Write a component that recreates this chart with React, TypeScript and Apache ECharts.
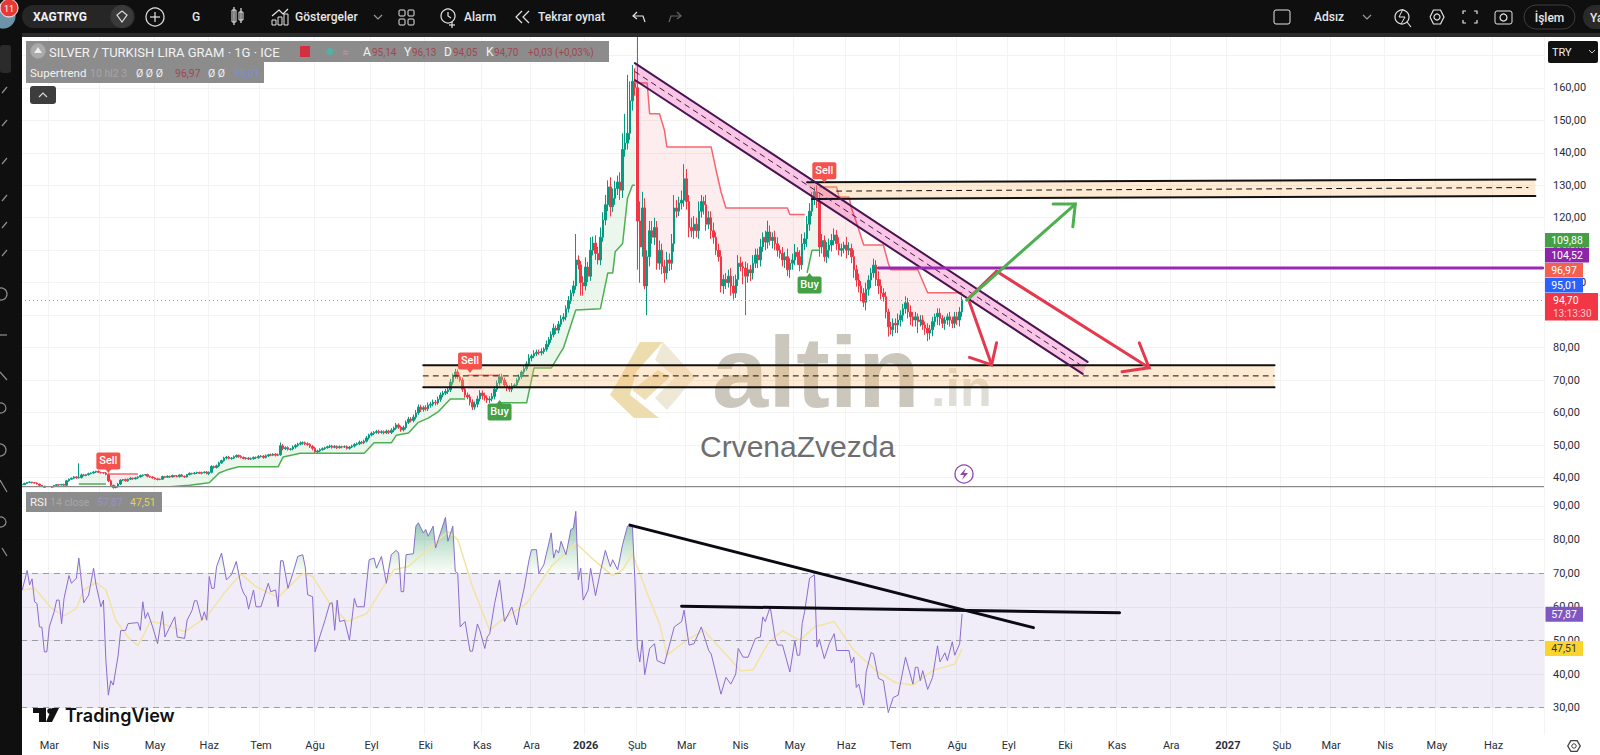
import React, { useEffect, useRef } from "react";
import * as echarts from "echarts";

const BAR_COUNT = 619;
const monthLabels: [number, string][] = [[11,"Mar"],[32,"Nis"],[54,"May"],[76,"Haz"],[97,"Tem"],[119,"Ağu"],[142,"Eyl"],[164,"Eki"],[187,"Kas"],[207,"Ara"],[229,"2026"],[250,"Şub"],[270,"Mar"],[292,"Nis"],[314,"May"],[335,"Haz"],[357,"Tem"],[380,"Ağu"],[401,"Eyl"],[424,"Eki"],[445,"Kas"],[467,"Ara"],[490,"2027"],[512,"Şub"],[532,"Mar"],[554,"Nis"],[575,"May"],[598,"Haz"]];
const priceTicks = [40,50,60,70,80,90,100,110,120,130,140,150,160,170];
const rsiTicks = [30,40,50,60,70,80,90];

const closes = [
37.8,38.2,38.5,38.6,38.4,38.3,38.0,37.6,37.3,37.0,
36.9,37.0,37.2,37.6,37.8,37.7,37.9,37.6,39.0,39.5,
39.8,40.2,39.9,40.0,40.8,40.6,40.9,41.2,41.4,41.7,
41.9,41.6,41.5,41.4,41.0,39.0,37.6,36.9,37.2,38.0,
39.2,39.4,39.0,39.5,39.8,39.6,39.9,40.2,40.6,40.8,
40.9,40.4,40.2,39.9,39.6,39.4,39.5,40.3,40.1,40.4,
40.2,40.6,40.5,40.3,40.8,40.4,40.2,40.9,41.3,41.2,
41.4,41.6,41.3,41.5,41.7,41.2,41.6,43.4,43.1,43.6,
44.5,45.2,46.0,46.3,45.9,46.0,46.4,46.8,46.5,46.2,
45.9,46.0,45.7,45.8,46.2,46.1,46.5,46.6,46.2,46.7,
47.0,46.9,47.2,46.9,47.0,49.8,48.9,49.2,48.7,48.8,
49.4,49.9,50.3,50.6,50.7,50.4,50.2,49.6,49.0,47.9,
48.2,48.6,48.9,49.2,49.5,49.7,49.3,49.6,49.2,49.5,
49.4,49.5,49.0,49.4,49.7,50.2,50.4,50.9,50.7,51.2,
52.2,53.1,53.6,53.9,54.2,53.9,54.1,53.8,54.3,53.9,
54.6,55.2,56.2,55.5,54.7,55.4,57.0,58.0,57.6,58.6,
59.9,61.7,61.0,61.5,61.2,62.3,62.6,63.2,63.0,64.1,
65.4,66.0,66.5,67.0,69.4,71.2,72.5,71.0,70.0,67.2,
65.4,64.8,63.2,61.7,62.6,64.2,66.0,65.2,64.5,63.9,
64.2,65.0,67.2,69.1,71.0,70.0,68.5,67.6,67.2,68.2,
68.5,70.0,71.0,72.5,73.5,75.0,76.8,77.4,78.2,78.6,
78.4,78.8,79.5,81.0,82.5,84.0,86.0,85.4,87.2,88.8,
89.4,92.0,94.5,96.8,99.0,107.0,105.5,100.0,99.0,104.8,
102.0,110.0,112.2,109.0,107.0,114.0,119.3,124.0,129.5,123.4,
126.0,129.0,131.0,128.5,141.0,143.0,146.0,156.0,162.0,160.0,
119.0,111.0,123.0,99.0,108.0,116.0,114.0,117.0,106.0,110.0,
105.0,103.0,107.0,106.0,112.0,123.0,122.0,124.5,125.4,132.0,
125.0,117.0,116.0,118.0,116.0,122.0,125.0,124.0,118.0,120.0,
116.0,114.0,110.0,108.0,99.0,101.0,100.0,102.0,99.0,96.8,
101.0,106.0,105.0,104.5,102.0,104.0,103.0,106.0,108.5,107.0,
111.0,114.0,112.5,115.6,113.0,114.0,112.0,110.0,109.0,107.0,
108.0,104.0,106.0,107.0,109.4,108.0,105.5,112.0,113.5,118.0,
122.0,126.4,128.0,125.0,111.0,113.0,108.0,110.0,111.6,113.0,
114.7,112.0,110.0,110.5,111.6,110.0,110.5,108.0,104.0,100.8,
99.0,96.8,94.0,98.0,100.8,103.0,105.4,101.0,99.0,96.8,
95.7,91.0,86.4,85.5,87.5,87.0,88.5,90.0,92.0,93.8,
91.0,89.5,88.5,89.5,88.0,88.5,87.0,86.0,84.5,85.5,
88.0,89.5,90.6,89.0,87.5,88.5,89.5,88.5,87.5,89.5,
88.5,91.0,94.7];

// wicks, in tenths of a lira above / below the body
const upWicks = [
2,2,1,2,1,1,2,1,1,2, 1,2,2,1,2,2,1,2,3,2,
2,3,2,44,4,3,2,3,2,3, 2,3,2,2,3,3,4,2,3,3,
3,2,3,2,3,2,3,2,3,2, 2,3,2,2,2,3,2,3,2,3,
2,3,2,3,2,3,2,2,3,2, 3,2,2,3,2,3,3,4,3,4,
4,3,4,3,4,3,4,3,3,4, 3,3,3,4,3,3,4,3,3,4,
3,4,3,3,4,10,5,4,4,3, 5,4,4,5,4,4,5,4,4,5,
4,4,4,3,3,4,4,4,3,4, 3,4,4,3,4,4,4,5,4,5,
6,4,5,4,5,5,5,4,5,4, 6,5,6,5,5,6,6,7,6,8,
9,8,7,6,8,8,7,8,7,8, 8,7,8,7,10,8,10,8,7,8,
7,8,8,9,8,10,9,8,9,8, 8,10,9,8,9,10,8,9,8,9,
5,6,8,5,10,8,12,6,10,8, 8,10,6,12,8,10,14,8,10,12,
12,10,14,10,16,80,14,12,20,30, 16,40,20,24,20,30,24,30,20,30,
30,24,20,30,50,90,180,60,50,40, 160,60,50,30,20,30,30,30,20,30,
20,20,25,20,30,40,25,20,30,45, 30,20,30,25,20,30,20,15,30,20,
20,25,15,20,20,15,20,20,25,30, 15,25,20,15,20,20,15,25,20,20,
25,15,20,35,20,15,20,20,15,20, 15,25,15,20,25,15,20,30,20,25,
25,15,15,20,25,20,15,25,20,20, 20,15,20,15,10,25,20,15,20,15,
20,15,15,20,15,15,20,15,25,20, 15,15,10,15,15,15,20,15,15,20,
15,20,15,15,10,15,15,10,15,15, 15,10,15,15,10,10,10,15,10,15,
15,15,10,15,10,15,10,10,15,10, 15,10,8];
const downWicks = [
2,1,2,1,2,1,1,2,2,1, 2,1,2,2,1,2,1,2,2,3,
2,2,3,2,3,2,2,3,2,2, 3,2,3,2,3,4,3,3,2,3,
3,3,2,3,2,3,2,3,2,3, 2,3,3,2,2,3,2,2,3,2,
3,2,3,2,3,2,3,2,2,3, 2,3,2,3,2,2,4,3,4,3,
4,3,3,4,3,4,3,3,4,3, 3,4,3,3,3,4,3,3,4,3,
4,3,3,4,3,3,5,4,4,4, 4,5,4,4,5,4,4,5,6,5,
4,4,3,4,3,4,4,3,4,3, 4,3,4,4,3,4,3,4,4,4,
4,5,4,5,4,5,4,5,4,5, 5,6,5,5,6,5,6,5,6,6,
7,6,8,7,6,7,8,7,8,6, 8,7,6,8,7,8,8,7,6,8,
8,7,10,9,8,10,8,12,8,9, 10,8,9,8,8,10,9,10,8,9,
6,5,7,6,8,6,8,10,6,8, 6,8,8,7,8,10,8,12,10,8,
8,10,12,10,10,12,14,40,30,14, 18,14,16,20,14,16,14,16,20,30,
16,20,20,30,24,22,20,20,30,24, 150,110,30,10,90,30,20,24,20,20,
24,30,20,24,20,25,20,15,20,20, 25,30,20,25,20,25,20,30,20,15,
25,20,15,15,20,25,20,15,30,20, 15,20,15,50,120,20,25,20,15,25,
20,15,25,20,15,25,20,20,15,20, 25,20,25,20,15,25,20,15,20,25,
20,15,25,20,30,20,15,20,25,20, 15,20,15,20,15,25,15,20,25,20,
20,25,15,25,20,25,15,20,25,20, 15,20,30,15,20,25,25,20,20,15,
20,25,20,20,35,15,15,20,25,20, 20,15,25,22,15,20,15,20,15,15,
15,20,15,15,20,15,15,20,15,15, 20,15,15,20,15,15,20,15,20,15,
15,15,10];

// Supertrend knots: [bar, price]
const stGreenA: [number, number][] = [[23,38],[34,38]];
const stRedA: [number, number][] = [[35,41.1],[47,41.1]];
const stGreenB: [number, number][] = [[40,36],[68,37.6],[76,38.4],[80,41.4],[83,42.3],[88,43.3],[104,43.3],[106,46.3],[113,47.5],[139,47.5],[143,50.7],[150,50.7],[152,53],[157,53.7],[161,57],[165,58.3],[169,60.2],[174,64.2],[180,64.2]];
const stRedB: [number, number][] = [[181,71.5],[194,71.5]];
const stGreenC: [number, number][] = [[194,63],[205,63],[208,73.7],[215,73.7],[220,80],[225,91.6],[235,92],[238,103],[240,103],[241,109.5],[244,112],[246,126],[248,130],[249,130]];
const stRedC: [number, number][] = [[249,161.5],[254,161.5],[255,152],[259,152],[261,147],[262,141.8],[280,141.8],[282,134.7],[284,128],[286,123],[311,123],[312,121],[318,121]];
const stGreenD: [number, number][] = [[319,103],[321,110],[324,110]];
const stRedD: [number, number][] = [[324,129.5],[331,129.5],[332,126.4],[336,126.4],[337,123],[339,118.7],[342,111.6],[350,111.6],[352,106],[353,104],[364,104],[368,96.9],[382,96.9]];

// RSI knots: [bar, value]
const rsiKnots: [number, number][] = [[0,65],[2,70.8],[3,66.5],[4,68.3],[5,61.5],[6,61],[7,54],[8,53.9],[9,46.6],[10,46.6],[11,54],[13,58.6],[14,62],[15,62],[16,55],[17,62.5],[19,69.3],[20,67],[22,68.5],[23,74.5],[25,61.2],[27,63.5],[29,71.5],[30,66.5],[32,60],[33,62],[34,44],[35,33.7],[36,38],[37,36.7],[39,45.6],[40,52.9],[42,53],[43,55],[47,55.3],[48,53],[49,61.5],[50,56.5],[51,58.3],[53,54],[55,49],[57,58.6],[58,51],[60,54],[62,57],[63,51],[66,50.6],[67,56],[69,58.9],[70,61.8],[71,61.8],[73,56],[74,58.5],[75,56],[76,69],[77,65.5],[78,65.5],[79,72],[81,76],[83,68],[85,69.5],[87,73.5],[89,66],[90,64],[91,63],[92,59.3],[94,65],[95,60],[97,60],[100,67],[101,64.5],[103,65],[104,60],[105,73.7],[106,73.7],[108,65.5],[110,70],[112,75],[114,75.5],[115,72],[116,63.6],[118,63],[119,46.6],[122,53.6],[123,55.9],[125,61],[126,61.2],[127,53],[128,62],[129,55.6],[131,56],[133,50],[135,62.5],[136,60],[139,60],[141,74],[143,74.5],[144,71.5],[146,75],[148,67],[150,75.5],[152,76.8],[153,76],[154,64.5],[155,64.5],[156,75.5],[159,75.8],[160,84],[161,85],[163,82],[164,83],[165,81],[167,84],[168,77.5],[172,86.6],[173,79.5],[175,84],[176,70.5],[177,70],[178,54],[180,55.6],[182,46.8],[183,46.8],[185,54.9],[186,53],[188,47.6],[189,51],[190,52],[192,61],[194,68],[196,55.6],[199,59.9],[201,54.6],[202,59],[204,65.5],[206,74],[207,77],[209,77],[210,70],[212,72.5],[215,82],[216,74.5],[217,77],[218,76],[219,79.5],[221,75.5],[223,83],[224,83.4],[225,88.4],[226,68],[227,71.5],[228,62],[230,65],[231,71.5],[233,63.3],[235,70.5],[237,76.8],[239,72],[240,74],[242,71],[244,78.5],[246,84],[248,84],[249,68],[250,48],[251,43.6],[252,50],[253,39.8],[255,47.6],[257,49],[258,44],[261,43],[265,54],[268,55.6],[269,59],[271,48.6],[273,49],[276,54],[279,47],[280,46],[284,34],[286,39],[288,37],[290,40],[291,47.6],[293,45],[295,45],[298,50.6],[300,51],[301,57],[302,55.6],[304,60],[306,50.6],[307,48.6],[309,48.6],[312,40.6],[314,50],[315,45.6],[316,45.6],[317,55],[318,58.6],[320,68.5],[322,69.5],[323,48],[324,50.3],[326,44.6],[328,49],[330,52],[331,47],[336,47],[337,43.3],[338,45],[339,36],[340,37],[342,30.7],[343,40.6],[345,46.4],[346,46],[348,38.7],[350,38],[352,28.5],[354,33],[356,33.7],[359,45],[362,37],[363,42],[364,42],[365,38],[366,41],[368,35.4],[370,39],[372,48.4],[373,43.6],[375,46.3],[376,44],[378,49.6],[379,45.6],[381,49],[382,57.87]];
const rsiMaKnots: [number, number][] = [[0,65],[5,65.5],[12,59.5],[17,57.3],[22,59.5],[25,65],[30,67.2],[34,65],[38,56],[43,51],[47,48.4],[52,55.6],[57,55],[66,52.6],[75,57],[82,64],[89,69.8],[95,66],[104,62.8],[114,70],[118,69],[125,61],[132,55.6],[140,58],[151,71],[157,72],[164,76.5],[173,82.4],[177,80],[183,66],[190,53],[194,55.6],[205,61],[215,72],[225,79],[231,74.8],[240,69.2],[244,71],[248,75.8],[254,64],[259,55],[262,45.6],[270,50],[277,53],[282,49],[292,41],[297,41.2],[303,49],[309,52.9],[316,50],[322,54],[330,55.6],[338,47],[347,41],[355,37.4],[362,36.7],[370,41],[379,43],[382,47.51]];

// drawings on the price pane: [bar, price]
const channelFill: [number, number][] = [[249,167.6],[433,75.6],[431,71.9],[249,162.4]];
const channelTop: [number, number][] = [[249,167.6],[433,75.6]];
const channelBottom: [number, number][] = [[249,162.4],[431,71.9]];
const channelMid: [number, number][] = [[249,165],[432,73.75]];
const upperBoxFill: [number, number][] = [[319,130.9],[615,131.8],[615,126.7],[321,125.8]];
const upperBoxTop: [number, number][] = [[319,130.9],[615,131.8]];
const upperBoxBottom: [number, number][] = [[321,125.8],[615,126.7]];
const upperBoxMid: [number, number][] = [[331,128.2],[612,129.3]];
const lowerBoxFill: [number, number][] = [[163,74.6],[509,74.6],[509,67.8],[163,67.8]];
const lowerBoxTop: [number, number][] = [[163,74.6],[509,74.6]];
const lowerBoxBottom: [number, number][] = [[163,67.8],[509,67.8]];
const lowerBoxMid: [number, number][] = [[163,71.3],[509,71.3]];
const purpleLine: [number, number][] = [[348,104.5],[618,104.5]];
const greenArrow: [number, number][] = [[384,94.7],[428,124.2]];
const greenHead: [number, number][] = [[419,124.2],[428,124.2],[427,117.2]];
const redArrow1: [number, number][] = [[385,94],[394,74.7]];
const redHead1: [number, number][] = [[385,77],[394,74.7],[396,81.5]];
const redArrow2: [number, number][] = [[396,103.5],[458,73.8]];
const redHead2: [number, number][] = [[447,72.6],[458,73.8],[454,81.5]];
const redLink: [number, number][] = [[384,94.7],[396,103.5]];
const rsiTrend1: [number, number][] = [[247,84.3],[411,53.8]];
const rsiTrend2: [number, number][] = [[268,60.2],[446,58.2]];
const signals: [number, number, string][] = [[35,45.1,"Sell"],[182,75.9,"Sell"],[326,134.5,"Sell"],[194,60.2,"Buy"],[320,99.3,"Buy"]];

const GREEN = "#089981", RED = "#f23645";
const FONT = "Roboto, 'Noto Sans', sans-serif";

const categories = Array.from({ length: BAR_COUNT }, () => "");
monthLabels.forEach(([i, s]) => { categories[i] = s; });
const ohlc = closes.map((c, i) => {
  const o = i === 0 ? c : closes[i - 1];
  const h = Math.max(o, c) + (upWicks[i] ?? 3) / 10;
  const l = Math.min(o, c) - (downWicks[i] ?? 3) / 10;
  return [o, c, l, h];
});

const fillFor = (pts: [number, number][]) => {
  const s = pts[0][0], e = pts[pts.length - 1][0];
  const back: [number, number][] = [];
  for (let i = Math.min(e, closes.length - 1); i >= s; i--) back.push([i, closes[i]]);
  return [...pts, ...back];
};
const GF = "rgba(76,175,80,0.11)", RF = "rgba(242,54,69,0.09)";
const lowFills = [
  { pts: fillFor(stGreenA), fill: GF }, { pts: fillFor(stRedA), fill: RF }, { pts: fillFor(stGreenB), fill: GF },
  { pts: fillFor(stRedB), fill: RF }, { pts: fillFor(stGreenC), fill: GF }, { pts: fillFor(stRedC), fill: RF },
  { pts: fillFor(stGreenD), fill: GF }, { pts: fillFor(stRedD), fill: RF },
];
const BOX = "rgba(255,190,110,0.30)", BLACK = "#111111", CH = "#4a1450";
const drawings: any[] = [
  { pts: upperBoxFill, fill: BOX }, { pts: lowerBoxFill, fill: BOX }, { pts: channelFill, fill: "rgba(233,30,150,0.25)" },
  { pts: upperBoxTop, stroke: BLACK, w: 2 }, { pts: upperBoxBottom, stroke: BLACK, w: 2 }, { pts: upperBoxMid, stroke: BLACK, w: 1, dash: [5, 5] },
  { pts: lowerBoxTop, stroke: BLACK, w: 2 }, { pts: lowerBoxBottom, stroke: BLACK, w: 2 }, { pts: lowerBoxMid, stroke: BLACK, w: 1, dash: [5, 5] },
  { pts: channelTop, stroke: CH, w: 2 }, { pts: channelBottom, stroke: CH, w: 2 }, { pts: channelMid, stroke: CH, w: 1, dash: [5, 5] },
  { pts: purpleLine, stroke: "#9c27b0", w: 3 },
  { pts: redLink, stroke: "#e53950", w: 3 }, { pts: redArrow1, stroke: "#e53950", w: 3 }, { pts: redHead1, stroke: "#e53950", w: 3 },
  { pts: redArrow2, stroke: "#e53950", w: 3 }, { pts: redHead2, stroke: "#e53950", w: 3 },
  { pts: greenArrow, stroke: "#4caf50", w: 3 }, { pts: greenHead, stroke: "#4caf50", w: 3 },
];
const rsiDrawings: any[] = [{ pts: rsiTrend1, stroke: "#0a0a14", w: 3 }, { pts: rsiTrend2, stroke: "#0a0a14", w: 3 }];

const shapeSeries = (list: any[], axis: number, z: number, name: string) => ({
  type: "custom", name, xAxisIndex: axis, yAxisIndex: axis, z, silent: true, clip: true,
  encode: { x: 0, y: 1 },
  data: list.map((s, k) => [s.pts[0][0], s.pts[0][1], k]),
  renderItem: (_p: any, api: any) => {
    const s = list[api.value(2)];
    const points = s.pts.map((q: [number, number]) => api.coord(q));
    if (s.fill) return { type: "polygon", shape: { points }, style: { fill: s.fill, stroke: "none" } };
    return { type: "polyline", shape: { points }, style: { fill: "none", stroke: s.stroke, lineWidth: s.w, lineDash: s.dash, lineCap: "round" } };
  },
});
const stLine = (data: [number, number][], color: string) => ({
  type: "line", data, xAxisIndex: 0, yAxisIndex: 0, showSymbol: false, z: 3, silent: true,
  lineStyle: { color, width: 1.5 }, itemStyle: { color },
});

// ---- page furniture (not data marks) ----
const rect = (x: number, y: number, w: number, h: number, fill: string, r: number = 0, z = 100, stroke?: string) =>
  ({ type: "rect", z, silent: true, shape: { x, y, width: w, height: h, r }, style: { fill, stroke } });
const txt = (x: number, y: number, text: string, fill: string, font: string, align = "left", z = 101) =>
  ({ type: "text", z, silent: true, x, y, style: { text, fill, font, textAlign: align, textVerticalAlign: "middle" } });
const seg = (pts: number[][], stroke: string, w = 1.2, z = 101) =>
  ({ type: "polyline", z, silent: true, shape: { points: pts }, style: { stroke, lineWidth: w, fill: "none" } });
const poly = (pts: number[][], fill: string, z = 1) =>
  ({ type: "polygon", z, silent: true, shape: { points: pts }, style: { fill } });
const circ = (cx: number, cy: number, r: number, stroke: string, fill = "none", w = 1.2, z = 101) =>
  ({ type: "circle", z, silent: true, shape: { cx, cy, r }, style: { stroke, fill, lineWidth: w } });

const W = "#e6e6e6";
const ICON = "#8f8f8f";
const f12 = `500 12px ${FONT}`;
const chrome: any[] = [
  // watermark
  poly([[640,342],[663,342],[636,372],[630,395],[659,418],[634,418],[610,395]], "#ecdcae"),
  poly([[663,342],[695,377],[667,410],[655,398],[675,377],[655,360]], "#efe8d6"),
  poly([[632,390],[658,370],[670,377],[645,400]], "#eedfb6"),
  txt(712, 372, "altin", "#cbc7bc", `bold 101px 'Liberation Sans', sans-serif`, "left", 1),
  txt(931, 388, ".in", "#dfddd5", `bold 52px 'Liberation Sans', sans-serif`, "left", 1),
  txt(700, 446, "CrvenaZvezda", "#6e6e6e", `30px 'Liberation Sans', sans-serif`, "left", 1),
  circ(964, 474, 9, "#8e44ad", "#ffffff", 1.3, 20),
  poly([[966,468],[960,475],[964,475],[962,480],[968,473],[964,473]], "#8e44ad", 21),
  // frames
  rect(0, 0, 1600, 33, "#0f0f0f"), rect(0, 33, 1600, 4, "#2b2b2b"), rect(0, 0, 22, 755, "#0f0f0f"),
  rect(0, 45, 11, 28, "#2b2b2b", 3),
  rect(22, 486, 1522, 1.2, "#8a8a8a", 0, 50),
  // side icons
  ...[[87],[120],[158],[195],[222],[250]].map(([y]) => seg([[2, y + 6], [7, y]], ICON, 1.2)),
  circ(1, 294, 6, ICON), seg([[0,335],[7,335]], ICON), seg([[0,372],[7,380]], ICON),
  circ(1, 408, 5, ICON), circ(0, 450, 6, ICON), seg([[0,480],[7,492]], ICON), circ(1, 522, 5, ICON), seg([[2,548],[7,556]], ICON),
  // top bar
  circ(3, 16, 12, "#6c93a8", "#6c93a8"),
  circ(9, 8, 9, "#ffffff", "#e53935", 1),
  txt(9, 8.5, "11", "#ffffff", `9px ${FONT}`, "center", 102),
  rect(22, 5, 113, 23, "#262626", 11.5),
  txt(33, 16.5, "XAGTRYG", "#f2f2f2", `bold 12px ${FONT}`),
  circ(122, 16.5, 11, "#3a3a3a", "#3a3a3a"),
  seg([[122,11],[127,15],[122,22],[117,15],[122,11]], "#dddddd", 1.2, 102),
  circ(155, 17, 9, W),
  seg([[150,17],[160,17]], W), seg([[155,12],[155,22]], W),
  txt(196, 17, "G", W, f12, "center"),
  rect(232, 10, 4, 12, "none", 0, 101, W), seg([[234,7],[234,25]], W), rect(239, 12, 4, 8, "none", 0, 101, W), seg([[241,8],[241,23]], W),
  seg([[272,16],[279,10],[283,14],[288,9]], W), rect(272, 20, 4, 5, "none", 0, 101, W), rect(278, 17, 4, 8, "none", 0, 101, W), rect(284, 14, 4, 11, "none", 0, 101, W),
  txt(295, 17, "Göstergeler", W, f12),
  seg([[374,15],[378,19],[382,15]], "#9a9a9a"),
  rect(399, 10, 6, 6, "none", 1, 101, W), rect(408, 10, 6, 6, "none", 1, 101, W), rect(399, 19, 6, 6, "none", 1, 101, W), rect(408, 19, 6, 6, "none", 1, 101, W),
  circ(448, 16, 7, W), seg([[448,12],[448,16],[451,18]], W), seg([[452,22],[452,28]], W), seg([[449,25],[455,25]], W),
  txt(464, 17, "Alarm", W, f12),
  seg([[522,11],[516,17],[522,23]], W), seg([[529,11],[523,17],[529,23]], W),
  txt(538, 17, "Tekrar oynat", W, f12),
  seg([[637,12],[633,16],[637,19]], W), seg([[633,16],[643,16],[645,22]], W),
  seg([[677,12],[681,16],[677,19]], "#666666"), seg([[681,16],[671,16],[669,22]], "#666666"),
  rect(1274, 10, 16, 14, "none", 2, 101, W),
  txt(1314, 17, "Adsız", W, f12),
  seg([[1363,15],[1367,19],[1371,15]], "#9a9a9a"),
  circ(1402, 17, 7, W), seg([[1407,22],[1411,27]], W), seg([[1403,9],[1399,17],[1405,17],[1401,24]], W, 1),
  seg([[1430,17],[1433.5,10],[1440.5,10],[1444,17],[1440.5,24],[1433.5,24],[1430,17]], W), circ(1437, 17, 3, W),
  seg([[1463,14],[1463,11],[1466,11]], W), seg([[1474,11],[1477,11],[1477,14]], W), seg([[1463,20],[1463,23],[1466,23]], W), seg([[1474,23],[1477,23],[1477,20]], W),
  rect(1495, 11, 17, 13, "none", 2, 101, W), circ(1503.5, 17.5, 3.5, W),
  rect(1524, 5, 51, 24, "#0f0f0f", 12, 101, "#3d3d3d"),
  txt(1549.5, 17.5, "İşlem", W, f12, "center", 102),
  rect(1583, 5, 30, 24, "#2a2a2a", 12, 101),
  txt(1590, 17.5, "Ya", W, f12, "left", 102),
  // legends
  rect(26, 41, 583, 21, "#8c8c8c"), rect(26, 62, 238, 21, "#8c8c8c"),
  circ(38, 51, 7, "#aaaaaa", "#aaaaaa"), poly([[38,47],[42,53],[34,53]], "#eeeeee", 102),
  txt(49, 52, "SILVER / TURKISH LIRA GRAM · 1G · ICE", "#f2f2f2", `13px ${FONT}`),
  rect(300, 46, 10, 11, "#d23040"),
  circ(330, 51.5, 3, "#4fb3a5", "#4fb3a5"),
  txt(342, 52, "≈", "#e08a96", `11px ${FONT}`),
  txt(363, 52, "A", "#f2f2f2", `12px ${FONT}`), txt(372, 52, "95,14", "#a34650", `10px ${FONT}`),
  txt(404, 52, "Y", "#f2f2f2", `12px ${FONT}`), txt(412, 52, "96,13", "#a34650", `10px ${FONT}`),
  txt(444, 52, "D", "#f2f2f2", `12px ${FONT}`), txt(453, 52, "94,05", "#a34650", `10px ${FONT}`),
  txt(486, 52, "K", "#f2f2f2", `12px ${FONT}`), txt(494, 52, "94,70", "#a34650", `10px ${FONT}`),
  txt(528, 52, "+0,03 (+0,03%)", "#a34650", `10px ${FONT}`),
  txt(30, 73, "Supertrend", "#f2f2f2", `11.5px ${FONT}`),
  txt(90, 73, "10 hl2 3", "#a6a6a6", `10.5px ${FONT}`),
  txt(136, 73, "Ø Ø Ø", "#f2f2f2", `10.5px ${FONT}`),
  txt(175, 73, "96,97", "#a34650", `10.5px ${FONT}`),
  txt(208, 73, "Ø Ø", "#f2f2f2", `10.5px ${FONT}`),
  txt(234, 73, "95,01", "#7c8fd0", `10.5px ${FONT}`),
  rect(30, 86, 26, 18, "#3d3d3d", 3),
  seg([[39,97],[43,93],[47,97]], "#d8d8d8"),
  rect(26, 492, 136, 20, "#8c8c8c"),
  txt(30, 502, "RSI", "#f2f2f2", `11.5px ${FONT}`),
  txt(50, 502, "14 close", "#a6a6a6", `10.5px ${FONT}`),
  txt(97, 502, "57,87", "#9c90c8", `10.5px ${FONT}`),
  txt(130, 502, "47,51", "#e3cf5f", `10.5px ${FONT}`),
  // TradingView mark
  rect(33, 708, 13, 5, "#111111", 0, 20), rect(39, 708, 7, 14, "#111111", 0, 20), circ(50, 711, 2.8, "#111111", "#111111", 0, 20),
  poly([[52,708],[59,708],[52,722],[46,722]], "#111111", 20),
  txt(65, 715, "TradingView", "#111111", `600 18px 'Inter', ${FONT}`, "left", 20),
  // axis badges
  rect(1548, 41, 50, 22, "#111111", 2), txt(1552, 52, "TRY", "#eeeeee", `11px ${FONT}`), seg([[1589,50],[1592,53],[1595,50]], "#cccccc", 1),
  rect(1545, 233, 44, 14.5, "#43a047"), txt(1567, 240.5, "109,88", "#ffffff", `10.5px ${FONT}`, "center"),
  rect(1545, 248, 44, 14.5, "#8e24aa"), txt(1567, 255.5, "104,52", "#ffffff", `10.5px ${FONT}`, "center"),
  rect(1545, 263, 38, 14.5, "#f4604f"), txt(1564, 270.5, "96,97", "#ffffff", `10.5px ${FONT}`, "center"),
  rect(1545, 278, 38, 14.5, "#2962ff"), txt(1564, 285.5, "95,01", "#ffffff", `10.5px ${FONT}`, "center"),
  rect(1545, 293, 53, 27.5, "#f23645"), txt(1553, 300, "94,70", "#ffffff", `10.5px ${FONT}`), txt(1553, 313, "13:13:30", "#ffc9cf", `10px ${FONT}`),
  rect(1545.5, 606.7, 37.5, 15, "#7e57c2"), txt(1564, 614.5, "57,87", "#ffffff", `10.5px ${FONT}`, "center"),
  rect(1545, 641, 38, 15, "#fbd52e"), txt(1564, 648.5, "47,51", "#333333", `10.5px ${FONT}`, "center"),
  // settings gear
  poly([[1567,746],[1570.5,740],[1577.5,740],[1581,746],[1577.5,752],[1570.5,752]], "#444444", 20),
  poly([[1568.5,746],[1571.3,741.3],[1576.7,741.3],[1579.5,746],[1576.7,750.7],[1571.3,750.7]], "#ffffff", 21),
  circ(1574, 746, 2.2, "#444444", "#ffffff", 1, 22),
];

const fmt = (v: number) => v.toFixed(2).replace(".", ",");
const GRID_LINE = "#f3f3f3";

const xAxisBase = {
  type: "category", data: categories, boundaryGap: true,
  axisLine: { show: false }, axisTick: { show: false },
  splitLine: { show: true, interval: (_i: number, v: string) => v !== "", lineStyle: { color: GRID_LINE, width: 1 } },
};
const yAxisBase = (ticks: number[]) => ({
  type: "value", position: "right", scale: true,
  axisLine: { show: false }, axisTick: { show: false, customValues: ticks },
  splitLine: { show: true, lineStyle: { color: GRID_LINE, width: 1 } },
  axisLabel: { customValues: ticks, formatter: fmt, color: "#2a2e39", fontSize: 11, fontFamily: FONT, margin: 9 },
});

const option: any = {
  animation: false,
  backgroundColor: "#ffffff",
  graphic: { elements: chrome },
  grid: [
    { left: 21, top: 37, width: 1523, height: 449 },
    { left: 21, top: 487, width: 1523, height: 248 },
  ],
  xAxis: [
    { ...xAxisBase, gridIndex: 0, axisLabel: { show: false } },
    {
      ...xAxisBase, gridIndex: 1,
      axisLabel: {
        show: true, interval: (_i: number, v: string) => v !== "", margin: 5, color: "#2a2e39", fontSize: 11, fontFamily: FONT,
        formatter: (v: string) => (/^\d{4}$/.test(v) ? `{b|${v}}` : v),
        rich: { b: { fontWeight: 700, fontSize: 11, color: "#2a2e39", fontFamily: FONT } },
      },
    },
  ],
  yAxis: [
    { ...yAxisBase(priceTicks), gridIndex: 0, min: 37.4, max: 175.65 },
    { ...yAxisBase(rsiTicks), gridIndex: 1, min: 21.85, max: 95.65 },
  ],
  series: [
    shapeSeries(lowFills, 0, 1, "Supertrend fill"),
    {
      type: "candlestick", name: "XAGTRYG", xAxisIndex: 0, yAxisIndex: 0, z: 2, barWidth: 2, silent: true,
      data: ohlc,
      itemStyle: { color: GREEN, color0: RED, borderColor: GREEN, borderColor0: RED, borderWidth: 1 },
      markLine: {
        symbol: "none", silent: true, animation: false, label: { show: false },
        lineStyle: { color: "#f0707c", type: [1, 3], width: 1 }, data: [{ yAxis: 94.7 }],
      },
    },
    stLine(stGreenA, "#4caf50"), stLine(stGreenB, "#4caf50"), stLine(stGreenC, "#4caf50"), stLine(stGreenD, "#4caf50"),
    stLine(stRedA, "#f7656f"), stLine(stRedB, "#f7656f"), stLine(stRedC, "#f7656f"), stLine(stRedD, "#f7656f"),
    shapeSeries(drawings, 0, 5, "Drawings"),
    {
      type: "custom", name: "Signals", xAxisIndex: 0, yAxisIndex: 0, z: 6, silent: true, clip: false,
      encode: { x: 0, y: 1 },
      data: signals.map((s, k) => [s[0], s[1], k]),
      renderItem: (_p: any, api: any) => {
        const [, , label] = signals[api.value(2)];
        const [x, y] = api.coord([api.value(0), api.value(1)]);
        const color = label === "Sell" ? "#f4524d" : "#43a047";
        const tip = label === "Sell" ? [[x - 3, y + 8], [x + 3, y + 8], [x, y + 12]] : [[x - 3, y - 8], [x + 3, y - 8], [x, y - 12]];
        return {
          type: "group",
          children: [
            { type: "rect", shape: { x: x - 12, y: y - 8.5, width: 24, height: 17, r: 2 }, style: { fill: color } },
            { type: "polygon", shape: { points: tip }, style: { fill: color } },
            { type: "text", x, y, style: { text: label, fill: "#ffffff", font: `500 11px ${FONT}`, textAlign: "center", textVerticalAlign: "middle" } },
          ],
        };
      },
    },
    {
      type: "line", name: "RSI overbought", xAxisIndex: 1, yAxisIndex: 1, z: 2, showSymbol: false, silent: true,
      data: rsiKnots.map(([i, v]) => [i, Math.max(v, 70)]),
      lineStyle: { opacity: 0, width: 0 },
      areaStyle: {
        origin: 70, opacity: 1,
        color: new echarts.graphic.LinearGradient(0, 0, 0, 1, [
          { offset: 0, color: "rgba(8,120,110,0.55)" },
          { offset: 1, color: "rgba(76,175,80,0.03)" },
        ]),
      },
    },
    {
      type: "line", name: "RSI", xAxisIndex: 1, yAxisIndex: 1, z: 4, showSymbol: false, silent: true,
      data: rsiKnots,
      lineStyle: { color: "#8a6ccb", width: 1 },
      markArea: { silent: true, itemStyle: { color: "rgba(126,87,194,0.11)" }, data: [[{ yAxis: 70 }, { yAxis: 30 }]] },
      markLine: {
        symbol: "none", silent: true, label: { show: false },
        lineStyle: { color: "#9a9ca6", type: [6, 5], width: 1 },
        data: [{ yAxis: 70 }, { yAxis: 50 }, { yAxis: 30 }],
      },
    },
    {
      type: "line", name: "RSI MA", xAxisIndex: 1, yAxisIndex: 1, z: 3, showSymbol: false, silent: true,
      data: rsiMaKnots,
      lineStyle: { color: "#f3e3a2", width: 1.5 },
    },
    shapeSeries(rsiDrawings, 1, 5, "RSI trend lines"),
  ],
};

export default function App() {
  const ref = useRef<HTMLDivElement>(null);
  useEffect(() => {
    document.body.style.margin = "0";
    const chart = echarts.init(ref.current!, undefined, { renderer: "svg" });
    chart.setOption(option);
    return () => chart.dispose();
  }, []);
  return <div ref={ref} style={{ position: "fixed", left: 0, top: 0, width: 1600, height: 755, background: "#fff" }} />;
}
